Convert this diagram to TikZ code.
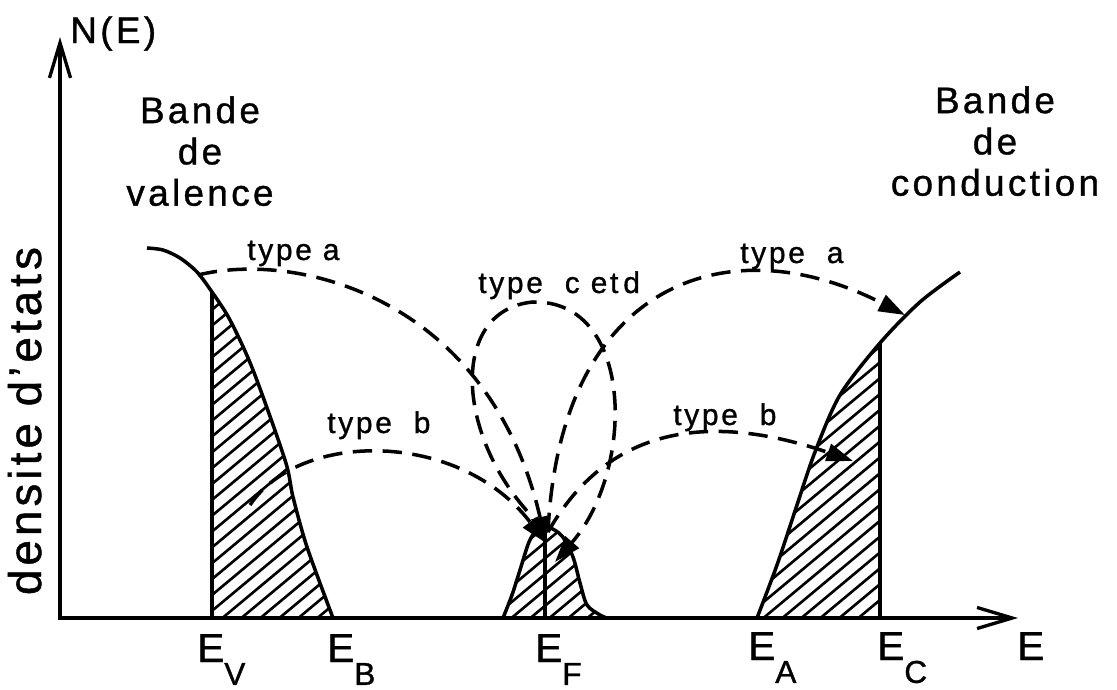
\documentclass[tikz,border=0pt]{standalone}
\usepackage{fontspec}
\setmainfont{Liberation Sans}[LetterSpace=9, FakeBold=1]
\usetikzlibrary{arrows.meta,positioning,calc}

\newcommand{\lev}[1]{E\raisebox{-13pt}{\fontsize{18}{18}\selectfont #1}}

\begin{document}
\begin{tikzpicture}[x=0.02cm, y=-0.02cm,
  ax/.style={line width=1.9pt, {Straight Barb[length=20pt,width=12pt]}-{Straight Barb[length=20pt,width=12pt]}},
  band/.style={line width=2pt},
  hatch/.style={line width=1.5pt},
  tr/.style={line width=2pt, dash pattern=on 11pt off 6pt, -{Triangle[length=15pt,width=10pt]}},
  lab/.style={font=\fontsize{17}{17}\selectfont, inner sep=0pt, anchor=base west},
  en/.style={font=\fontsize{23}{23}\selectfont, inner sep=0pt, anchor=base west},
  bandtxt/.style={font=\fontsize{21}{23.5}\selectfont, align=center, inner sep=0pt, anchor=north}]
\useasboundingbox (0,0) rectangle (1117,690);

% axes
\coordinate (ytip) at (60,37);
\coordinate (xtip) at (1018,618);
\draw[ax] (ytip) |- (xtip);

% hatched parts of the bands
\begin{scope}
  \clip (212,200) rectangle (400,618);
  \clip plot[smooth] coordinates {(147,248) (163,250) (180,258) (197,272) (212,292) (230,320) (253,370) (285,460) (293,497) (307,547) (333,618)} -- (147,618) -- cycle;
  \foreach \x in {-260,-241,...,360} \draw[hatch] (\x,640) -- ++(500,-417);
\end{scope}
\begin{scope}
  \clip plot[smooth] coordinates {(503,618) (512,595) (520,570) (529,542) (537,530) (548,527) (562,536) (573,557) (580,583) (587,605) (600,615) (607,618)} -- cycle;
  \foreach \x in {390,409,...,600} \draw[hatch] (\x,640) -- ++(300,-250);
\end{scope}
\begin{scope}
  \clip (757,200) rectangle (880,618);
  \clip plot[smooth] coordinates {(757,618) (777,565) (797,505) (815,452) (840,395) (880,343) (920,302) (960,272)} -- (960,618) -- cycle;
  \foreach \x in {490,509,...,880} \draw[hatch] (\x,640) -- ++(500,-417);
\end{scope}

% band edges
\draw[band] plot[smooth] coordinates {(147,248) (163,250) (180,258) (197,272) (212,292) (230,320) (253,370) (285,460) (293,497) (307,547) (333,618)};
\draw[band] plot[smooth] coordinates {(503,618) (512,595) (520,570) (529,542) (537,530) (548,527) (562,536) (573,557) (580,583) (587,605) (600,615) (607,618)};
\draw[band] plot[smooth] coordinates {(757,618) (777,565) (797,505) (815,452) (840,395) (880,343) (920,302) (960,272)};
\coordinate (vtop) at (212,292); \coordinate (vbot) at (212,618);
\coordinate (ftop) at (545,527); \coordinate (fbot) at (545,618);
\coordinate (ctop) at (880,343); \coordinate (cbot) at (880,618);
\draw[band] (vtop) -- (vbot);
\draw[band] (ftop) -- (fbot);
\draw[band] (ctop) -- (cbot);

% transitions
\coordinate (va) at (198,275);
\coordinate (vb) at (250,505);
\coordinate (fin) at (546,543);
\coordinate (fout) at (548,532);
\coordinate (fret) at (555,562);
\coordinate (ltop) at (533,302);
\coordinate (ca) at (905,315);
\coordinate (cb) at (853,461);
\draw[tr] (va) .. controls (300,250) and (490,300) .. (fin);
\draw[tr] (vb) .. controls (300,430) and (460,430) .. (fin);
\draw[tr] (fout) .. controls (560,280) and (730,225) .. (ca);
\draw[tr] (fout) .. controls (600,440) and (690,405) .. (cb);
\draw[tr] (fout) .. controls (455,450) and (445,310) .. (ltop) .. controls (635,300) and (635,470) .. (fret);

% texts
\node[anchor=base west, inner sep=0pt, font=\fontsize{21}{21}\selectfont] (NE) at (70,43) {N(E)};
\node[rotate=90, anchor=base, inner sep=0pt, font=\fontsize{26}{26}\selectfont] (dens) at (41,421) {densite d'etats};
\node[bandtxt] (bv) at (200,96) {Bande\\de\\valence};
\node[bandtxt] (bc) at (995,86) {Bande\\de\\conduction};
\node[lab] (ta1) at (247,260) {type a};
\node[lab] (tb1) at (327,433) {type\ \ b};
\node[lab] (tcd) at (478,293) {type\ \ c et\,d};
\node[lab] (ta2) at (740,263) {type\ \ a};
\node[lab] (tb2) at (673,425) {type\ \ b};
\node[en] (EV) at (197,662) {\lev{V}};
\node[en] (EB) at (327,662) {\lev{B}};
\node[en] (EF) at (535,662) {\lev{F}};
\node[en] (EA) at (748,660) {\lev{A}};
\node[en] (EC) at (877,660) {\lev{C}};
\node[en] (E) at (1017,660) {E};
\end{tikzpicture}
\end{document}
